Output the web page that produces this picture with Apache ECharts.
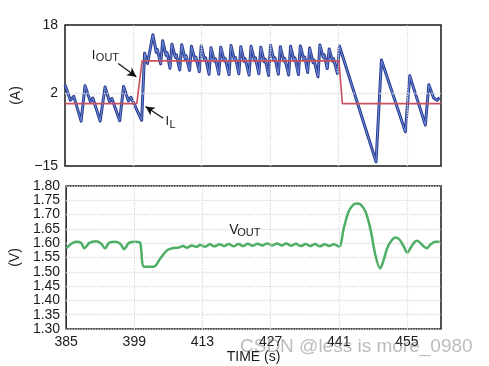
<!DOCTYPE html>
<html>
<head>
<meta charset="utf-8">
<script src="https://cdn.jsdelivr.net/npm/echarts@6/dist/echarts.min.js"></script>
<style>
html,body{margin:0;padding:0;background:#fff;}
#c{width:489px;height:366px;}
</style>
</head>
<body>
<div id="c"></div>
<script>
// ---- data ----
const xTicks = [385, 399, 413, 427, 441, 455];
const topYTicks = [-15, 2, 18];
const bottomYTicks = [1.30, 1.35, 1.40, 1.45, 1.50, 1.55, 1.60, 1.65, 1.70, 1.75, 1.80];

const ilTime = [385.0, 386.1, 386.8, 388.3, 389.1, 390.2, 390.7, 392.2, 393.2, 394.1, 394.6, 396.2, 397.0, 398.0, 398.5, 400.7,
  401.3, 401.9, 403.0, 403.7, 403.9, 404.6, 405.0, 405.7, 405.9, 406.5, 406.9, 407.6, 407.8, 408.5, 408.9, 409.6, 409.8, 410.5,
  410.9, 411.6, 411.8, 412.5, 412.9, 413.6, 413.8, 414.5, 414.9, 415.6, 415.8, 416.5, 416.9, 417.6, 417.8, 418.6, 419.0, 419.7,
  419.9, 420.6, 421.0, 421.7, 421.9, 422.7, 423.1, 423.8, 424.0, 424.7, 425.1, 425.8, 426.0, 426.7, 427.1, 427.8, 428.0, 428.7,
  429.1, 429.8, 430.0, 430.8, 431.2, 431.9, 432.1, 432.8, 433.2, 433.9, 434.1, 434.7, 435.1, 435.8, 436.0, 436.8, 437.2, 437.9,
  438.1, 438.7, 439.1, 439.8, 440.0, 440.8, 441.2, 448.7, 449.8, 454.7, 455.6, 458.8, 459.5, 460.5, 461.2, 461.7];
const ilValue = [4.0, 0.4, 1.3, -4.5, 3.8, 0.1, 0.9, -4.5, 3.5, 0.1, 0.8, -4.4, 3.6, 0.2, 1.1, -4.3,
  11.4, 9.0, 15.7, 11.6, 12.3, 8.9, 14.3, 10.9, 11.5, 7.9, 13.5, 10.4, 11.0, 7.5, 13.4, 10.1, 10.8, 7.4,
  13.0, 9.9, 10.5, 7.1, 13.1, 9.7, 10.3, 6.5, 12.7, 9.5, 10.1, 6.5, 12.8, 9.6, 10.2, 6.4, 13.2, 9.8,
  10.4, 6.6, 12.9, 9.5, 10.1, 6.3, 13.0, 9.7, 10.3, 6.6, 12.8, 9.4, 10.0, 6.2, 13.2, 9.7, 10.3, 6.5,
  12.9, 9.6, 10.2, 6.3, 13.0, 9.7, 10.3, 6.4, 13.1, 9.9, 10.5, 6.9, 12.6, 9.2, 9.8, 5.9, 13.3, 10.4,
  11.0, 7.8, 12.4, 9.5, 10.1, 6.6, 13.1, -14.0, 9.8, -7.0, 6.1, -5.4, 4.0, 0.9, 0.4, 1.0];

const ioutTime = [385, 399.7, 400.8, 441.1, 441.8, 462];
const ioutValue = [-0.4, -0.4, 9.6, 9.6, -0.4, -0.4];

const voutTime = [385.0, 387.0, 388.1, 388.7, 389.8, 391.1, 392.1, 393.0, 393.8, 395.2, 396.2, 396.9, 397.9, 399.3, 400.2,
  401.0, 403.0, 404.4, 405.8, 407.0, 408.1, 409.0, 409.8, 410.8, 411.7, 412.6, 413.6, 414.5, 415.5, 416.5, 417.4, 418.4,
  419.4, 420.4, 421.4, 422.3, 423.3, 424.3, 425.3, 426.3, 427.3, 428.3, 429.3, 430.2, 431.2, 432.2, 433.2, 434.2, 435.1,
  436.1, 437.1, 438.1, 439.0, 440.0, 441.1, 442.0, 443.0, 444.0, 444.7, 445.5, 446.5, 447.5, 448.5, 449.5, 450.2, 451.0,
  452.0, 452.7, 453.5, 454.3, 455.1, 455.8, 456.5, 457.1, 457.8, 458.5, 459.1, 459.8, 460.8, 461.7];
const voutValue = [1.582, 1.605, 1.601, 1.582, 1.601, 1.607, 1.600, 1.582, 1.601, 1.605, 1.597, 1.579, 1.601, 1.605, 1.601,
  1.518, 1.518, 1.548, 1.576, 1.583, 1.585, 1.590, 1.584, 1.592, 1.587, 1.594, 1.588, 1.596, 1.589, 1.596, 1.590, 1.597,
  1.589, 1.597, 1.590, 1.598, 1.591, 1.598, 1.592, 1.599, 1.592, 1.599, 1.592, 1.599, 1.591, 1.598, 1.590, 1.597, 1.590,
  1.597, 1.589, 1.596, 1.590, 1.596, 1.588, 1.650, 1.710, 1.735, 1.739, 1.735, 1.710, 1.650, 1.560, 1.512, 1.540, 1.585,
  1.613, 1.620, 1.612, 1.590, 1.567, 1.585, 1.603, 1.609, 1.600, 1.588, 1.582, 1.595, 1.605, 1.605];

// annotation anchors (data coordinates)
const ioutArrow = [[395.9, 9.0], [399.6, 5.9]];
const ilArrow = [[405.1, -3.8], [401.5, -1.1]];
const ioutLabelAt = [390.5, 12.4];
const ilLabelAt = [405.6, -3.1];
const voutLabelAt = [418.5, 1.670];

const zip = (a, b) => a.map((v, i) => [v, b[i]]);
const FONT = "'Liberation Sans Narrow', 'Liberation Sans', Arial, sans-serif";
const gridLine = {type: 'dotted', color: '#dcdcdc', width: 1.3};

const chart = echarts.init(document.getElementById('c'), null, {renderer: 'canvas'});

const xAxisBase = {
  type: 'value', min: 385, max: 462, interval: 7,
  axisLine: {show: false}, axisTick: {show: false}, splitLine: {show: false}
};

chart.setOption({
  animation: false,
  backgroundColor: '#fff',
  grid: [
    {left: 65, top: 25, width: 376, height: 141, show: true, borderColor: '#1a1a1a', borderWidth: 1.5, backgroundColor: '#fff'},
    {left: 65, top: 186, width: 376, height: 143, show: true, borderColor: '#1a1a1a', borderWidth: 1.5, backgroundColor: '#fff'}
  ],
  xAxis: [
    Object.assign({}, xAxisBase, {gridIndex: 0, axisLabel: {show: false}}),
    Object.assign({}, xAxisBase, {
      gridIndex: 1,
      name: 'TIME (s)', nameLocation: 'middle', nameGap: 21,
      nameTextStyle: {fontFamily: FONT, fontSize: 14, color: '#1a1a1a'},
      axisLabel: {
        fontFamily: FONT, fontSize: 14, color: '#1a1a1a', margin: 6,
        formatter: v => xTicks.some(t => Math.abs(t - v) < 1e-6) ? String(v) : ''
      }
    })
  ],
  yAxis: [
    {
      type: 'value', gridIndex: 0, min: -15, max: 18, interval: 1,
      name: '(A)', nameLocation: 'middle', nameGap: 25, nameRotate: 90,
      nameTextStyle: {fontFamily: FONT, fontSize: 14, color: '#1a1a1a'},
      axisLine: {show: false}, axisTick: {show: false}, splitLine: {show: false},
      axisLabel: {
        fontFamily: FONT, fontSize: 14, color: '#1a1a1a', margin: 7,
        formatter: v => topYTicks.some(t => Math.abs(t - v) < 1e-6) ? (v < 0 ? '\u2212' + Math.abs(v) : String(v)) : ''
      }
    },
    {
      type: 'value', gridIndex: 1, min: 1.30, max: 1.80, interval: 0.05,
      name: '(V)', nameLocation: 'middle', nameGap: 37, nameRotate: 90,
      nameTextStyle: {fontFamily: FONT, fontSize: 14, color: '#1a1a1a'},
      axisLine: {show: false}, axisTick: {show: false},
      splitLine: {show: true, lineStyle: gridLine},
      axisLabel: {
        fontFamily: FONT, fontSize: 14, color: '#1a1a1a', margin: 6,
        formatter: v => bottomYTicks.some(t => Math.abs(t - v) < 1e-6) ? v.toFixed(2) : ''
      }
    }
  ],
  series: [
    {
      type: 'line', xAxisIndex: 0, yAxisIndex: 0, z: 1, silent: true,
      data: zip(ioutTime, ioutValue), showSymbol: false, lineStyle: {opacity: 0},
      markLine: {
        silent: true, symbol: ['none', 'none'], label: {show: false}, animation: false,
        lineStyle: gridLine,
        data: xTicks.slice(1).map(t => ({xAxis: t})).concat([{yAxis: 2}])
      }
    },
    {
      type: 'line', xAxisIndex: 1, yAxisIndex: 1, z: 1, silent: true,
      data: zip(voutTime, voutValue), showSymbol: false, lineStyle: {opacity: 0},
      markLine: {
        silent: true, symbol: ['none', 'none'], label: {show: false}, animation: false,
        lineStyle: gridLine,
        data: xTicks.slice(1).map(t => ({xAxis: t}))
      }
    },
    {
      name: 'IL outer', type: 'line', xAxisIndex: 0, yAxisIndex: 0, z: 3,
      data: zip(ilTime, ilValue), showSymbol: false,
      lineStyle: {color: '#2b3c92', width: 3, join: 'round'}
    },
    {
      name: 'IL inner', type: 'line', xAxisIndex: 0, yAxisIndex: 0, z: 4,
      data: zip(ilTime, ilValue), showSymbol: false,
      lineStyle: {color: '#6c8ad4', width: 1, join: 'round'}
    },
    {
      name: 'IOUT', type: 'line', xAxisIndex: 0, yAxisIndex: 0, z: 5,
      data: zip(ioutTime, ioutValue), showSymbol: false,
      lineStyle: {color: '#c9505e', width: 1.6},
      markLine: {
        silent: true, symbol: ['none', 'arrow'], symbolSize: [7, 9], label: {show: false}, animation: false,
        lineStyle: {type: 'solid', color: '#111', width: 1.2},
        data: [
          [{coord: ioutArrow[0]}, {coord: ioutArrow[1]}],
          [{coord: ilArrow[0]}, {coord: ilArrow[1]}]
        ]
      }
    },
    {
      name: 'VOUT', type: 'line', xAxisIndex: 1, yAxisIndex: 1, z: 3,
      data: zip(voutTime, voutValue), showSymbol: false, smooth: 0.3,
      lineStyle: {color: '#4fae66', width: 2.5}
    }
  ]
});

function sub(at, grid, main, subText, mainSize, subSize, dx, dy) {
  const p = chart.convertToPixel({xAxisIndex: grid, yAxisIndex: grid}, at);
  return [
    {type: 'text', x: p[0], y: p[1], silent: true, z: 10,
     style: {text: main, fontFamily: FONT, fontSize: mainSize, fill: '#1a1a1a', textVerticalAlign: 'top'}},
    {type: 'text', x: p[0] + dx, y: p[1] + dy, silent: true, z: 10,
     style: {text: subText, fontFamily: FONT, fontSize: subSize, fill: '#1a1a1a', textVerticalAlign: 'top'}}
  ];
}

chart.setOption({
  graphic: [].concat(
    sub(ioutLabelAt, 0, 'I', 'OUT', 13, 11, 4, 4),
    sub(ilLabelAt, 0, 'I', 'L', 13, 11, 4, 4),
    sub(voutLabelAt, 1, 'V', 'OUT', 14, 11, 8, 4),
    [{type: 'text', left: 240, top: 337, silent: true, z: 20,
      style: {text: 'CSDN @less is more_0980', fontFamily: "'Liberation Sans', Arial, sans-serif", fontSize: 19, fill: 'rgba(120,120,120,0.5)'}}]
  )
});
</script>
</body>
</html>
